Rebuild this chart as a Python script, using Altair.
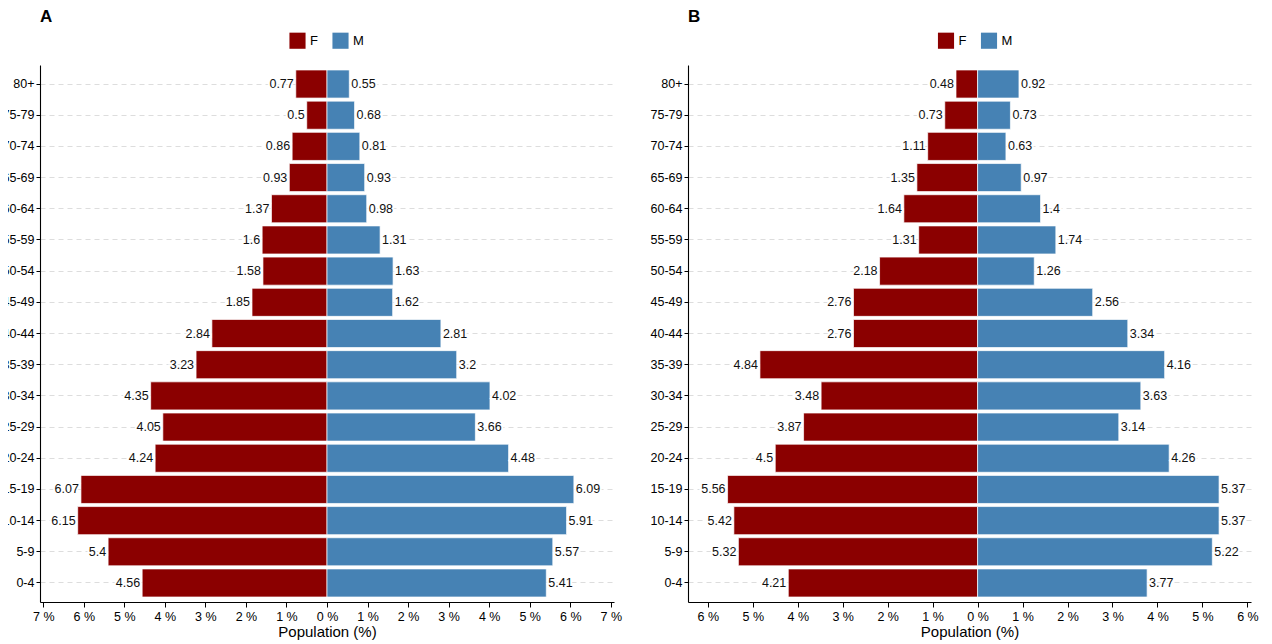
import altair as alt
import pandas as pd

ages = ["80+", "75-79", "70-74", "65-69", "60-64", "55-59", "50-54", "45-49",
        "40-44", "35-39", "30-34", "25-29", "20-24", "15-19", "10-14", "5-9", "0-4"]

a_female = [0.77, 0.5, 0.86, 0.93, 1.37, 1.6, 1.58, 1.85, 2.84, 3.23, 4.35, 4.05, 4.24, 6.07, 6.15, 5.4, 4.56]
a_male = [0.55, 0.68, 0.81, 0.93, 0.98, 1.31, 1.63, 1.62, 2.81, 3.2, 4.02, 3.66, 4.48, 6.09, 5.91, 5.57, 5.41]

b_female = [0.48, 0.73, 1.11, 1.35, 1.64, 1.31, 2.18, 2.76, 2.76, 4.84, 3.48, 3.87, 4.5, 5.56, 5.42, 5.32, 4.21]
b_male = [0.92, 0.73, 0.63, 0.97, 1.4, 1.74, 1.26, 2.56, 3.34, 4.16, 3.63, 3.14, 4.26, 5.37, 5.37, 5.22, 3.77]

a_ticks = list(range(-7, 8))
b_ticks = list(range(-6, 7))

FONT = "Liberation Sans"


def panel(letter, female, male, domain, ticks, width, legend_shift):
    rows = []
    for age, fv, mv in zip(ages, female, male):
        rows.append({"age": age, "sex": "F", "value": -fv, "label": f"{fv:g}"})
        rows.append({"age": age, "sex": "M", "value": mv, "label": f"{mv:g}"})
    df = pd.DataFrame(rows)

    x = alt.X("value:Q",
              scale=alt.Scale(domain=domain, nice=False, zero=False),
              axis=alt.Axis(values=ticks, labelExpr="abs(datum.value) + ' %'",
                            title="Population (%)", grid=False, tickSize=5,
                            labelPadding=3, titlePadding=2))
    y = alt.Y("age:N", sort=ages,
              scale=alt.Scale(paddingInner=0.1, paddingOuter=0.16),
              axis=alt.Axis(title=None, grid=True, gridDash=[5, 4], gridColor="#d9d9d9",
                            gridWidth=0.9, tickSize=4, labelPadding=2))

    base = alt.Chart(df)
    bars = base.mark_bar(stroke="white", strokeWidth=0.7).encode(
        x=x, y=y,
        color=alt.Color("sex:N",
                        scale=alt.Scale(domain=["F", "M"], range=["#8B0000", "#4682B4"]),
                        legend=alt.Legend(orient="none", legendX=width / 2 + legend_shift,
                                          legendY=-33,
                                          title=None, symbolType="square",
                                          symbolSize=260, symbolStrokeWidth=0,
                                          labelFontSize=13, labelFont=FONT, labelColor="black",
                                          direction="horizontal", columnPadding=14)))
    layers = [bars]
    for sex, align, dx in [("F", "right", -2), ("M", "left", 2)]:
        sub = base.transform_filter(alt.datum.sex == sex)
        halo = sub.mark_text(align=align, baseline="middle", dx=dx, fontSize=12.5, font=FONT,
                             stroke="white", strokeWidth=4, color="white").encode(
            x="value:Q", y=alt.Y("age:N", sort=ages), text="label:N")
        txt = sub.mark_text(align=align, baseline="middle", dx=dx, fontSize=12.5, font=FONT,
                            color="#111111").encode(
            x="value:Q", y=alt.Y("age:N", sort=ages), text="label:N")
        layers += [halo, txt]

    return alt.layer(*layers).properties(
        width=width, height=537,
        title=alt.TitleParams(letter, anchor="start", frame="group", fontSize=17,
                              fontWeight="bold", font=FONT, offset=6, color="black"))


chart_a = panel("A", a_female, a_male, [-7.08, 7.08], a_ticks, 574, -38)
chart_b = panel("B", b_female, b_male, [-6.44, 6.08], b_ticks, 563, -32)

chart = alt.hconcat(chart_a, chart_b, spacing=28).resolve_scale(
    x="independent", y="independent"
).resolve_legend(color="independent").configure_view(stroke=None).configure_axis(
    domainColor="black", tickColor="black", labelColor="black", titleColor="black",
    labelFont=FONT, titleFont=FONT, labelFontSize=12.5, titleFontSize=15,
    titleFontWeight="normal", domainWidth=1.1
).properties(padding={"left": -6, "top": 0, "right": 5, "bottom": 0})

chart.save("out.html", embed_options={"renderer": "svg", "actions": False})
